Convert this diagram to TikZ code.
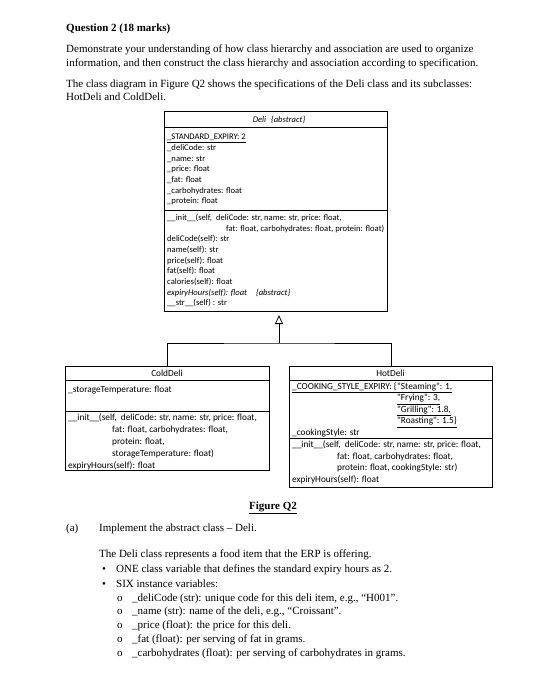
\documentclass[tikz,border=0pt]{standalone}
\usepackage{fontspec}
\setmainfont{Liberation Serif}
\newfontfamily\umlfont{Carlito}
\usetikzlibrary{arrows.meta}
\begin{document}
\begin{tikzpicture}[x=1pt,y=-1pt,
  body/.style={anchor=base west, inner sep=0pt, font=\fontsize{11}{13}\selectfont},
  uml/.style={anchor=base west, inner sep=0pt, font=\umlfont\fontsize{8.6}{10}\selectfont},
  umlhead/.style={anchor=base, inner sep=0pt, font=\umlfont\fontsize{8.6}{10}\selectfont},
  subuml/.style={anchor=base west, inner sep=0pt, font=\umlfont\fontsize{9.3}{11}\selectfont},
  subhead/.style={anchor=base, inner sep=0pt, font=\umlfont\fontsize{9.3}{11}\selectfont},
  classbox/.style={draw, line width=0.8pt, anchor=north west, inner sep=0pt},
  sepline/.style={line width=0.8pt},
  conn/.style={line width=0.8pt}]
\useasboundingbox (0,0) rectangle (546,674);

% ---- header text
\node[body] (q) at (66,31.5) {\textbf{Question 2 (18 marks)}};
\node[body] (p1) at (66,53) {Demonstrate your understanding of how class hierarchy and association are used to organize};
\node[body] (p2) at (66,66.5) {information, and then construct the class hierarchy and association according to specification.};
\node[body] (p3) at (66,87.5) {The class diagram in Figure Q2 shows the specifications of the Deli class and its subclasses:};
\node[body] (p4) at (66,101) {HotDeli and ColdDeli.};

% ---- Deli
\node[classbox, minimum width=223pt, minimum height=200pt] (deli) at (164,111) {};
\draw[sepline] (deli.west |- 0,127) -- (deli.east |- 0,127);
\draw[sepline] (deli.west |- 0,210) -- (deli.east |- 0,210);
\node[umlhead] (dh) at (279,123) {\itshape Deli\hspace{3pt} \{abstract\}};
\node[uml] (d1) at (167,139.7) {\underline{\_STANDARD\_EXPIRY: 2}};
\node[uml] (d2) at (167,150.4) {\_deliCode: str};
\node[uml] (d3) at (167,161.1) {\_name: str};
\node[uml] (d4) at (167,171.8) {\_price: float};
\node[uml] (d5) at (167,182.5) {\_fat: float};
\node[uml] (d6) at (167,193.2) {\_carbohydrates: float};
\node[uml] (d7) at (167,203.9) {\_protein: float};
\node[uml] (m1) at (167,220.3) {\_\_init\_\_(self,\hspace{2pt} deliCode: str, name: str, price: float,};
\node[uml] (m1b) at (226,231) {fat: float, carbohydrates: float, protein: float)};
\node[uml] (m2) at (167,241.7) {deliCode(self): str};
\node[uml] (m3) at (167,252.4) {name(self): str};
\node[uml] (m4) at (167,263.1) {price(self): float};
\node[uml] (m5) at (167,273.8) {fat(self): float};
\node[uml] (m6) at (167,284.5) {calories(self): float};
\node[uml] (m7) at (167,295.2) {\itshape expiryHours(self): float\hspace{9pt}\{abstract\}};
\node[uml] (m8) at (167,305.9) {\_\_str\_\_(self) : str};

% ---- ColdDeli
\node[classbox, minimum width=204pt, minimum height=104pt] (cold) at (65,366) {};
\draw[sepline] (cold.west |- 0,380) -- (cold.east |- 0,380);
\draw[sepline] (cold.west |- 0,411) -- (cold.east |- 0,411);
\node[subhead] (ch) at (167,376.3) {ColdDeli};
\node[subuml] (c1) at (68,392.3) {\_storageTemperature: float};
\node[subuml] (cm1) at (68,420.8) {\_\_init\_\_(self,\hspace{2pt} deliCode: str, name: str, price: float,};
\node[subuml] (cm1b) at (112,432.6) {fat: float, carbohydrates: float,};
\node[subuml] (cm1c) at (112,444.4) {protein: float,};
\node[subuml] (cm1d) at (112,456.2) {storageTemperature: float)};
\node[subuml] (cm2) at (68,468) {expiryHours(self): float};

% ---- HotDeli
\node[classbox, minimum width=203pt, minimum height=121pt] (hot) at (289,366) {};
\draw[sepline] (hot.west |- 0,380) -- (hot.east |- 0,380);
\draw[sepline] (hot.west |- 0,438) -- (hot.east |- 0,438);
\node[subhead] (hh) at (390.5,376.3) {HotDeli};
\node[subuml] (h1a) at (292,389.3) {\underline{\_COOKING\_STYLE\_EXPIRY: \{}};
\node[subuml] (h1) at (h1a.base east) {\underline{"Steaming": 1,}};
\node[subuml] (h1b) at (h1.base west |- 0,400.8) {\underline{"Frying": 3,}};
\node[subuml] (h1c) at (h1.base west |- 0,412.3) {\underline{"Grilling": 1.8,}};
\node[subuml] (h1d) at (h1.base west |- 0,423.8) {\underline{"Roasting": 1.5\}}};
\node[subuml] (h2) at (292,435.3) {\_cookingStyle: str};
\node[subuml] (hm1) at (292,447.3) {\_\_init\_\_(self,\hspace{2pt} deliCode: str, name: str, price: float,};
\node[subuml] (hm1b) at (337,459) {fat: float, carbohydrates: float,};
\node[subuml] (hm1c) at (337,470.7) {protein: float, cookingStyle: str)};
\node[subuml] (hm2) at (292,482.3) {expiryHours(self): float};

% ---- inheritance connectors
\coordinate (apex) at (279,315);
\coordinate (junction) at (279,343);
\draw[conn] (cold.north) |- (junction) -| (hot.north);
\draw[conn, -{Triangle[open, length=9pt, width=8pt, line width=0.8pt]}] (junction) -- (apex);

% ---- bottom text
\node[body, anchor=base] (fig) at (273,509.5) {\textbf{\underline{Figure Q2}}};
\node[body] (a) at (66,531) {(a)};
\node[body] (impl) at (99,531) {Implement the abstract class -- Deli.};
\node[body] (t1) at (99,557.5) {The Deli class represents a food item that the ERP is offering.};
\node[body] (b1) at (102,572) {•};
\node[body] (b1t) at (116,572) {ONE class variable that defines the standard expiry hours as 2.};
\node[body] (b2) at (102,587.5) {•};
\node[body] (b2t) at (116,587.5) {SIX instance variables:};
\node[body] (s1) at (117,601) {o};
\node[body] (s1t) at (132,601) {\_deliCode (str): unique code for this deli item, e.g., ``H001''.};
\node[body] (s2) at (117,614.5) {o};
\node[body] (s2t) at (132,614.5) {\_name (str): name of the deli, e.g., ``Croissant''.};
\node[body] (s3) at (117,628) {o};
\node[body] (s3t) at (132,628) {\_price (float): the price for this deli.};
\node[body] (s4) at (117,642) {o};
\node[body] (s4t) at (132,642) {\_fat (float): per serving of fat in grams.};
\node[body] (s5) at (117,656) {o};
\node[body] (s5t) at (132,656) {\_carbohydrates (float): per serving of carbohydrates in grams.};
\end{tikzpicture}
\end{document}
